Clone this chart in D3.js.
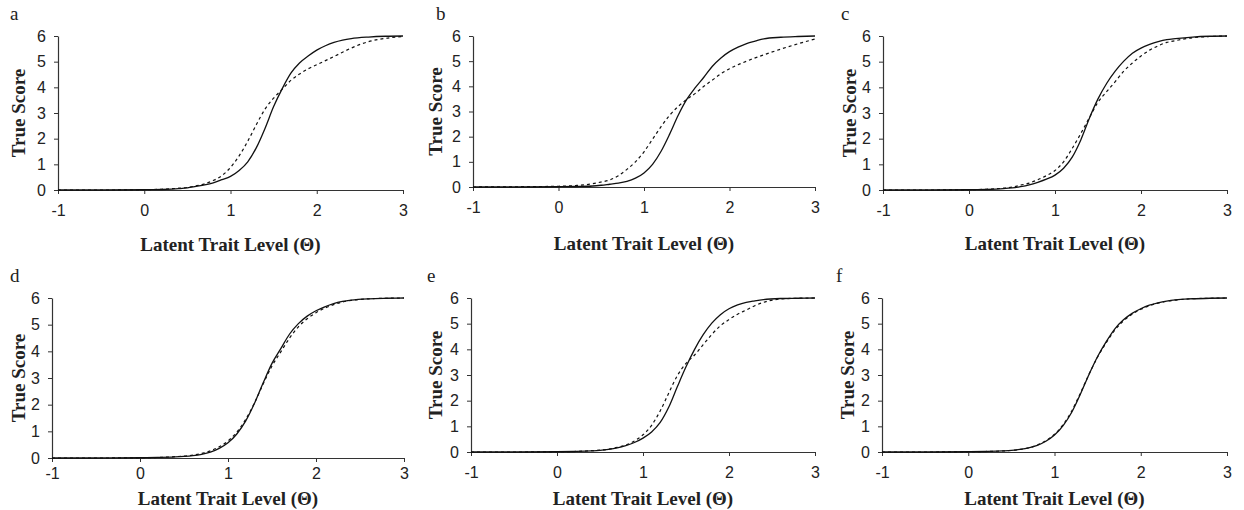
<!DOCTYPE html>
<html>
<head>
<meta charset="utf-8">
<script src="https://cdn.jsdelivr.net/npm/d3@7"></script>
<style>
  body { margin: 0; background: #fff; }
</style>
</head>
<body>
<div id="chart"></div>
<script>
// theta grid shared by every curve
var theta = [-1, -0.5, 0, 0.2, 0.4, 0.5, 0.6, 0.7, 0.8, 0.9, 1.0, 1.1, 1.2, 1.3, 1.4, 1.5, 1.6, 1.7, 1.8, 1.9, 2.0, 2.1, 2.2, 2.3, 2.4, 2.6, 2.8, 3.0];

var xTicks = [-1, 0, 1, 2, 3];
var yTicks = [0, 1, 2, 3, 4, 5, 6];
var panelNames = ["a", "b", "c", "d", "e", "f"];

// true score curves (solid / dashed)
var aSolid  = [0, 0, 0.01, 0.02, 0.05, 0.08, 0.14, 0.2, 0.28, 0.4, 0.53, 0.76, 1.1, 1.65, 2.4, 3.25, 3.95, 4.55, 4.95, 5.22, 5.45, 5.62, 5.75, 5.84, 5.9, 5.96, 5.99, 6];
var aDashed = [0, 0, 0.01, 0.03, 0.07, 0.1, 0.16, 0.24, 0.37, 0.56, 0.88, 1.33, 1.9, 2.55, 3.15, 3.58, 3.93, 4.27, 4.52, 4.72, 4.88, 5.04, 5.2, 5.37, 5.53, 5.78, 5.91, 5.98];

var bSolid  = [0, 0, 0.01, 0.02, 0.04, 0.07, 0.11, 0.15, 0.22, 0.35, 0.56, 0.9, 1.42, 2.1, 2.85, 3.48, 3.95, 4.36, 4.8, 5.13, 5.38, 5.56, 5.7, 5.8, 5.89, 5.95, 5.98, 6];
var bDashed = [0, 0.01, 0.03, 0.06, 0.13, 0.2, 0.28, 0.45, 0.7, 1.0, 1.4, 1.9, 2.4, 2.85, 3.2, 3.48, 3.72, 4.0, 4.25, 4.5, 4.7, 4.86, 5.0, 5.13, 5.25, 5.48, 5.69, 5.88];

var cSolid  = [0, 0, 0.01, 0.02, 0.05, 0.08, 0.13, 0.2, 0.3, 0.42, 0.58, 0.85, 1.28, 1.95, 2.8, 3.55, 4.15, 4.63, 5.02, 5.33, 5.53, 5.67, 5.78, 5.86, 5.9, 5.96, 5.99, 6];
var cDashed = [0, 0, 0.01, 0.03, 0.07, 0.11, 0.19, 0.27, 0.4, 0.56, 0.76, 1.1, 1.62, 2.2, 2.82, 3.42, 3.83, 4.22, 4.63, 4.95, 5.22, 5.45, 5.62, 5.75, 5.82, 5.93, 5.98, 6];

var dSolid  = [0, 0, 0.01, 0.02, 0.04, 0.06, 0.09, 0.14, 0.22, 0.36, 0.57, 0.9, 1.38, 2.04, 2.82, 3.55, 4.1, 4.65, 5.04, 5.32, 5.52, 5.67, 5.79, 5.87, 5.92, 5.97, 5.99, 6];
var dDashed = [0, 0, 0.01, 0.02, 0.05, 0.07, 0.11, 0.17, 0.27, 0.42, 0.64, 0.97, 1.44, 2.06, 2.78, 3.45, 3.98, 4.5, 4.92, 5.22, 5.45, 5.62, 5.75, 5.85, 5.91, 5.97, 5.99, 6];

var eSolid  = [0, 0, 0.01, 0.02, 0.04, 0.06, 0.1, 0.16, 0.25, 0.37, 0.54, 0.78, 1.15, 1.75, 2.55, 3.32, 4.0, 4.57, 5.02, 5.35, 5.58, 5.73, 5.83, 5.89, 5.94, 5.98, 5.99, 6];
var eDashed = [0, 0, 0.01, 0.02, 0.05, 0.07, 0.11, 0.18, 0.27, 0.43, 0.67, 1.04, 1.6, 2.3, 2.98, 3.45, 3.78, 4.18, 4.58, 4.92, 5.16, 5.37, 5.53, 5.7, 5.83, 5.96, 5.99, 6];

var fSolid  = [0, 0, 0.01, 0.02, 0.04, 0.06, 0.1, 0.16, 0.26, 0.42, 0.66, 1.03, 1.55, 2.25, 3.02, 3.72, 4.3, 4.8, 5.15, 5.4, 5.58, 5.72, 5.81, 5.88, 5.93, 5.97, 5.99, 6];
var fDashed = [0, 0, 0.01, 0.02, 0.04, 0.06, 0.1, 0.16, 0.27, 0.44, 0.69, 1.07, 1.6, 2.29, 3.03, 3.7, 4.26, 4.75, 5.11, 5.37, 5.56, 5.7, 5.8, 5.87, 5.92, 5.97, 5.99, 6];

var solids  = [aSolid, bSolid, cSolid, dSolid, eSolid, fSolid];
var dashes  = [aDashed, bDashed, cDashed, dDashed, eDashed, fDashed];

// panel boxes in page pixels
var layout = [
  {x0: 58,  x1: 403,  top: 36,  bot: 190, letter: [10, 20],  titleY: 251, yLabX: 18, pad: 11},
  {x0: 473, x1: 815,  top: 36,  bot: 187, letter: [436, 20], titleY: 250, yLabX: 435, pad: 11},
  {x0: 883, x1: 1227, top: 36,  bot: 190, letter: [841, 20], titleY: 250, yLabX: 849, pad: 11},
  {x0: 52,  x1: 404,  top: 298, bot: 458, letter: [10, 282], titleY: 505, yLabX: 18, pad: 6},
  {x0: 471, x1: 815,  top: 298, bot: 452, letter: [427, 282], titleY: 505, yLabX: 435, pad: 11},
  {x0: 882, x1: 1227, top: 298, bot: 452, letter: [836, 282], titleY: 505, yLabX: 847, pad: 11}
];

var sansFont  = "'Liberation Sans', Arial, sans-serif";
var serifFont = "'Liberation Serif', 'Times New Roman', serif";

var width = 1244, height = 510;
var svg = d3.select("#chart").append("svg")
    .attr("width", width)
    .attr("height", height);

panelNames.forEach(function(name, i) {
  var L = layout[i];
  var x = d3.scaleLinear().domain([-1, 3]).range([L.x0, L.x1]);
  var y = d3.scaleLinear().domain([0, 6]).range([L.bot, L.top]);

  var g = svg.append("g").attr("class", "panel");

  g.append("g")
      .attr("class", "axis axis--y")
      .attr("transform", "translate(" + L.x0 + ",0)")
      .call(d3.axisLeft(y).tickValues(yTicks).tickSize(4).tickPadding(8).tickSizeOuter(0)
        .tickFormat(function(d) { return String(d); }));

  g.append("g")
      .attr("class", "axis axis--x")
      .attr("transform", "translate(0," + L.bot + ")")
      .call(d3.axisBottom(x).tickValues(xTicks).tickSize(4).tickPadding(L.pad).tickSizeOuter(0)
        .tickFormat(function(d) { return String(d); }));

  g.selectAll(".axis")
      .attr("font-family", sansFont)
      .attr("font-size", 16);
  g.selectAll(".axis text").attr("fill", "#222");
  g.selectAll(".axis path").attr("stroke", "#333").attr("stroke-width", 1.2);
  g.selectAll(".axis line").attr("stroke", "#333");

  var line = d3.line()
      .x(function(d, k) { return x(theta[k]); })
      .y(function(d) { return y(d); })
      .curve(d3.curveMonotoneX);

  g.append("path")
      .datum(dashes[i])
      .attr("fill", "none")
      .attr("stroke", "#111")
      .attr("stroke-width", 1.2)
      .attr("stroke-dasharray", "3,3")
      .attr("d", line);

  g.append("path")
      .datum(solids[i])
      .attr("fill", "none")
      .attr("stroke", "#111")
      .attr("stroke-width", 1.3)
      .attr("d", line);

  g.append("text")
      .attr("x", (L.x0 + L.x1) / 2)
      .attr("y", L.titleY)
      .attr("text-anchor", "middle")
      .style("font-family", serifFont)
      .style("font-weight", "bold")
      .style("font-size", "19px")
      .attr("fill", "#222")
      .text("Latent Trait Level (Θ)");

  g.append("text")
      .attr("transform", "translate(" + L.yLabX + "," + (L.top + L.bot) / 2 + ") rotate(-90)")
      .attr("text-anchor", "middle")
      .attr("dy", "0.35em")
      .style("font-family", serifFont)
      .style("font-weight", "bold")
      .style("font-size", "19px")
      .attr("fill", "#222")
      .text("True Score");

  g.append("text")
      .attr("x", L.letter[0])
      .attr("y", L.letter[1])
      .style("font-family", serifFont)
      .style("font-size", "19px")
      .attr("fill", "#222")
      .text(name);
});
</script>
</body>
</html>
